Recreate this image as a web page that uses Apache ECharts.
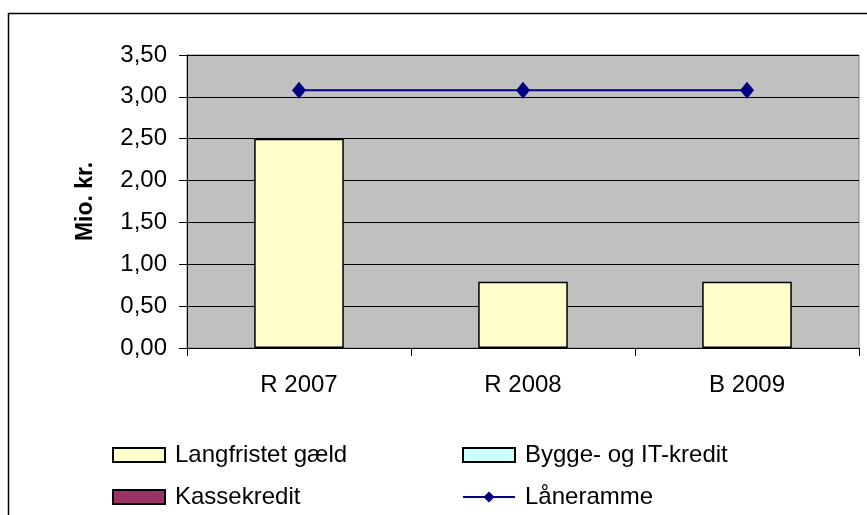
<!DOCTYPE html>
<html>
<head>
<meta charset="utf-8">
<script src="https://cdn.jsdelivr.net/npm/echarts@6/dist/echarts.min.js"></script>
<style>
html,body{margin:0;padding:0;background:#fff;}
#c{width:867px;height:515px;}
</style>
</head>
<body>
<div id="c"></div>
<script>
const categories = ['R 2007', 'R 2008', 'B 2009'];
const langfristet = [2.50, 0.79, 0.79];
const byggeIT = [null, null, null];
const kassekredit = [null, null, null];
const laaneramme = [3.08, 3.08, 3.08];
const yTicks = { min: 0, max: 3.5, interval: 0.5 };

const FONT = '"Liberation Sans", Arial, sans-serif';
const chart = echarts.init(document.getElementById('c'), null, { renderer: 'canvas' });

const barBase = {
  type: 'bar',
  stack: 'debt',
  barWidth: '40%',
  animation: false
};

function legendAt(name, left, top, icon) {
  const l = {
    left: left, top: top,
    orient: 'horizontal',
    itemWidth: 52, itemHeight: 14,
    selectedMode: false,
    data: [name],
    textStyle: { fontFamily: FONT, fontSize: 24, lineHeight: 24, color: '#000', padding: [0, 0, 0, 5] }
  };
  if (icon) l.icon = icon;
  return l;
}

chart.setOption({
  animation: false,
  backgroundColor: '#ffffff',
  textStyle: { fontFamily: FONT },
  graphic: [{
    type: 'rect',
    shape: { x: 8.5, y: 13.5, width: 900, height: 600 },
    style: { fill: 'none', stroke: '#000', lineWidth: 1.5 },
    z: 100
  }],
  grid: {
    left: 187, right: 8, top: 55, bottom: 167,
    show: true,
    backgroundColor: '#C0C0C0',
    borderColor: '#808080',
    borderWidth: 1,
    containLabel: false
  },
  legend: [
    legendAt('Langfristet gæld', 107, 438, 'rect'),
    legendAt('Bygge- og IT-kredit', 457, 438, 'rect'),
    legendAt('Kassekredit', 107, 480, 'rect'),
    legendAt('Låneramme', 457, 480)
  ],
  xAxis: {
    type: 'category',
    data: categories,
    boundaryGap: true,
    axisLine: { lineStyle: { color: '#000', width: 1 } },
    axisTick: { show: true, length: 8, inside: false, lineStyle: { color: '#000' } },
    axisLabel: { fontFamily: FONT, fontSize: 24, color: '#000', margin: 25 },
    splitLine: { show: false }
  },
  yAxis: {
    type: 'value',
    min: yTicks.min, max: yTicks.max, interval: yTicks.interval,
    name: 'Mio. kr.',
    nameLocation: 'middle',
    nameGap: 90,
    nameRotate: 90,
    nameTextStyle: { fontFamily: FONT, fontSize: 23, fontWeight: 'bold', color: '#000' },
    axisLine: { show: true, lineStyle: { color: '#000', width: 1 } },
    axisTick: { show: true, length: 8, inside: false, lineStyle: { color: '#000' } },
    axisLabel: {
      fontFamily: FONT, fontSize: 24, color: '#000', margin: 20,
      formatter: v => v.toFixed(2).replace('.', ',')
    },
    splitLine: { show: true, lineStyle: { color: '#000', width: 1 } }
  },
  series: [
    Object.assign({}, barBase, {
      name: 'Langfristet gæld',
      data: langfristet,
      itemStyle: { color: '#FFFFCC', borderColor: '#000', borderWidth: 1.5 }
    }),
    Object.assign({}, barBase, {
      name: 'Bygge- og IT-kredit',
      data: byggeIT,
      itemStyle: { color: '#CCFFFF', borderColor: '#000', borderWidth: 1.5 }
    }),
    Object.assign({}, barBase, {
      name: 'Kassekredit',
      data: kassekredit,
      itemStyle: { color: '#993366', borderColor: '#000', borderWidth: 1.5 }
    }),
    {
      name: 'Låneramme',
      type: 'line',
      data: laaneramme,
      symbol: 'diamond',
      symbolSize: [14, 17],
      lineStyle: { color: '#000080', width: 2 },
      itemStyle: { color: '#000080' },
      z: 5
    }
  ]
});
</script>
</body>
</html>
